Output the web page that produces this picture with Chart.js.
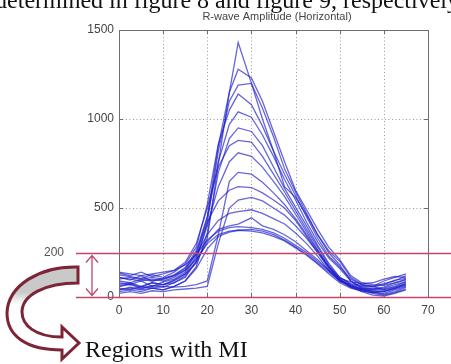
<!DOCTYPE html>
<html>
<head>
<meta charset="utf-8">
<script src="https://cdn.jsdelivr.net/npm/chart.js@4/dist/chart.umd.min.js"></script>
<style>
  html, body { margin: 0; padding: 0; background: #fff; }
  canvas { display: block; }
</style>
</head>
<body>
<canvas id="chart" width="451" height="364"></canvas>
<script>
// sample positions along the beat
const xValues = [0, 2.5, 5, 7.5, 10, 12.5, 15, 17.5, 20, 22.5, 25, 27, 30, 32.5, 35, 37.5, 40, 42.5, 45, 47.5, 50, 52.5, 55, 57.5, 60, 62.5, 65];

// one array per traced beat
const beat1 = [60, 75, 55, 80, 70, 95, 130, 190, 330, 750, 1150, 1430, 1200, 1000, 820, 620, 560, 460, 350, 260, 200, 110, 70, 60, 40, 55, 75];
const beat2 = [110, 95, 120, 90, 105, 125, 165, 260, 450, 850, 1150, 1280, 1230, 1100, 930, 760, 600, 490, 380, 280, 210, 120, 80, 70, 65, 80, 100];
const beat3 = [40, 55, 45, 65, 55, 80, 110, 200, 420, 820, 1100, 1190, 1200, 1060, 900, 720, 590, 470, 350, 250, 180, 90, 50, 30, 15, 30, 55];
const beat4 = [125, 115, 105, 125, 110, 140, 185, 280, 520, 860, 1050, 1140, 1080, 960, 820, 690, 570, 450, 330, 230, 170, 100, 70, 60, 75, 90, 120];
const beat5 = [80, 70, 90, 60, 85, 100, 140, 230, 450, 760, 970, 1040, 1010, 910, 790, 660, 545, 420, 310, 220, 160, 90, 55, 45, 50, 70, 85];
const beat6 = [30, 40, 30, 50, 40, 60, 90, 170, 360, 700, 890, 950, 930, 850, 730, 610, 505, 400, 290, 190, 110, 70, 40, 20, 10, 25, 45];
const beat7 = [135, 120, 140, 115, 130, 150, 195, 300, 500, 730, 850, 880, 870, 790, 690, 590, 485, 380, 280, 180, 110, 75, 65, 60, 90, 110, 130];
const beat8 = [70, 80, 60, 80, 70, 90, 130, 220, 400, 620, 760, 810, 790, 730, 650, 565, 465, 365, 265, 170, 100, 60, 45, 35, 30, 50, 75];
const beat9 = [50, 40, 60, 50, 60, 55, 60, 70, 90, 350, 650, 700, 690, 645, 585, 520, 440, 350, 260, 170, 100, 60, 40, 30, 35, 50, 65];
const beat10 = [110, 100, 90, 100, 90, 110, 150, 250, 420, 540, 600, 620, 615, 585, 545, 500, 430, 340, 250, 160, 95, 70, 60, 55, 70, 95, 105];
const beat11 = [20, 30, 20, 35, 30, 40, 45, 50, 60, 300, 500, 545, 560, 540, 500, 460, 400, 330, 250, 170, 100, 55, 30, 10, 5, 20, 40];
const beat12 = [90, 80, 100, 90, 100, 120, 160, 240, 350, 430, 470, 480, 490, 470, 440, 410, 360, 300, 230, 150, 90, 65, 50, 45, 55, 80, 95];
const beat13 = [60, 70, 50, 60, 70, 80, 120, 200, 310, 380, 400, 410, 445, 400, 380, 350, 310, 260, 210, 150, 90, 55, 35, 25, 20, 40, 60];
const beat14 = [140, 130, 120, 130, 140, 150, 180, 240, 320, 370, 390, 395, 390, 380, 360, 330, 290, 250, 200, 150, 105, 85, 75, 80, 100, 115, 110];
const beat15 = [40, 50, 40, 50, 40, 60, 90, 160, 270, 340, 365, 375, 380, 370, 350, 320, 280, 240, 190, 140, 90, 60, 45, 40, 45, 60, 85];
const beat16 = [100, 110, 100, 110, 100, 120, 150, 210, 300, 350, 370, 375, 370, 360, 340, 315, 275, 235, 185, 130, 80, 50, 35, 25, 30, 45, 70];

const beats = [beat1, beat2, beat3, beat4, beat5, beat6, beat7, beat8, beat9, beat10, beat11, beat12, beat13, beat14, beat15, beat16];

const xTicks = [0, 10, 20, 30, 40, 50, 60, 70];
const yTicks = [0, 500, 1000, 1500];

const chartTitle = 'R-wave Amplitude (Horizontal)';
const thresholdLabel = '200';
const thresholdValue = 250;   // where the red band line sits on the axis
const regionText = 'Regions with MI';
const topText = 'determined in figure 8 and figure 9, respectively.';

const datasets = beats.map((b) => ({
  data: b.map((v, i) => ({ x: xValues[i], y: v })),
  borderColor: 'rgba(30, 30, 200, 0.68)',
  borderWidth: 1.3,
  pointRadius: 0,
  tension: 0,
  fill: false,
}));

const red = '#c2476a';
const wine = '#7d2436';

const decor = {
  id: 'decor',
  beforeDatasetsDraw(chart) {
    const { ctx, chartArea: a, scales: { x, y } } = chart;
    ctx.save();
    ctx.strokeStyle = '#9a9a9a';
    ctx.lineWidth = 1;
    ctx.setLineDash([1, 2.5]);
    xTicks.slice(1, -1).forEach((t) => {
      const px = Math.round(x.getPixelForValue(t)) + 0.5;
      ctx.beginPath(); ctx.moveTo(px, a.top); ctx.lineTo(px, a.bottom); ctx.stroke();
    });
    yTicks.slice(1, -1).forEach((t) => {
      const py = Math.round(y.getPixelForValue(t)) + 0.5;
      ctx.beginPath(); ctx.moveTo(a.left, py); ctx.lineTo(a.right, py); ctx.stroke();
    });
    ctx.restore();
  },
  afterDraw(chart) {
    const { ctx, chartArea: a, scales: { x, y } } = chart;
    ctx.save();

    // box and inward ticks
    ctx.strokeStyle = '#6e6e6e';
    ctx.lineWidth = 1;
    ctx.strokeRect(Math.round(a.left) + 0.5, Math.round(a.top) + 0.5, Math.round(a.right - a.left), Math.round(a.bottom - a.top));
    ctx.beginPath();
    xTicks.forEach((t) => {
      const px = Math.round(x.getPixelForValue(t)) + 0.5;
      ctx.moveTo(px, a.top); ctx.lineTo(px, a.top + 4);
      ctx.moveTo(px, a.bottom); ctx.lineTo(px, a.bottom - 4);
    });
    yTicks.forEach((t) => {
      const py = Math.round(y.getPixelForValue(t)) + 0.5;
      ctx.moveTo(a.left, py); ctx.lineTo(a.left + 4, py);
      ctx.moveTo(a.right, py); ctx.lineTo(a.right - 4, py);
    });
    ctx.stroke();

    // title
    ctx.fillStyle = '#444';
    ctx.font = '11px "Liberation Sans", Arial, sans-serif';
    ctx.textAlign = 'center';
    ctx.textBaseline = 'middle';
    ctx.fillText(chartTitle, 277, 17);

    // cropped caption line at the very top
    ctx.fillStyle = '#111';
    ctx.font = '24px "Liberation Serif", "Times New Roman", serif';
    ctx.textAlign = 'left';
    ctx.textBaseline = 'alphabetic';
    const head = 'determined in figure 8 and figure 9,';
    ctx.fillText(topText, 337 - ctx.measureText(head).width, 8);

    // red band lines
    const yTop = Math.round(y.getPixelForValue(thresholdValue)) + 0.5;
    const yBot = Math.round(y.getPixelForValue(0)) + 0.5;
    ctx.strokeStyle = red;
    ctx.lineWidth = 1.3;
    ctx.beginPath();
    ctx.moveTo(76, yTop); ctx.lineTo(chart.width, yTop);
    ctx.moveTo(76, yBot); ctx.lineTo(chart.width, yBot);
    ctx.stroke();

    // double headed arrow
    ctx.beginPath();
    ctx.moveTo(92, yTop + 2); ctx.lineTo(92, yBot - 2);
    ctx.moveTo(86, yTop + 9); ctx.lineTo(92, yTop + 2); ctx.lineTo(98, yTop + 9);
    ctx.moveTo(86, yBot - 9); ctx.lineTo(92, yBot - 2); ctx.lineTo(98, yBot - 9);
    ctx.stroke();

    ctx.fillStyle = '#555';
    ctx.font = '12px "Liberation Sans", Arial, sans-serif';
    ctx.textAlign = 'center';
    ctx.textBaseline = 'middle';
    ctx.fillText(thresholdLabel, 54, yTop - 1);

    // curved block arrow
    ctx.beginPath();
    ctx.moveTo(78, 267);
    ctx.bezierCurveTo(40, 266, 8, 285, 7, 313);
    ctx.bezierCurveTo(7, 335, 25, 350, 62, 350);
    ctx.lineTo(62, 359);
    ctx.lineTo(79, 343);
    ctx.lineTo(62, 327);
    ctx.lineTo(62, 337);
    ctx.bezierCurveTo(35, 337, 22, 325, 22, 312);
    ctx.bezierCurveTo(22, 295, 45, 283, 78, 283);
    ctx.closePath();
    const g = ctx.createLinearGradient(0, 292, 0, 304);
    g.addColorStop(0, '#c9c9c9');
    g.addColorStop(1, '#ffffff');
    ctx.fillStyle = g;
    ctx.fill();
    ctx.strokeStyle = wine;
    ctx.lineWidth = 3;
    ctx.lineJoin = 'miter';
    ctx.stroke();

    // caption under the chart
    ctx.fillStyle = '#111';
    ctx.font = '24px "Liberation Serif", "Times New Roman", serif';
    ctx.textAlign = 'left';
    ctx.textBaseline = 'alphabetic';
    ctx.fillText(regionText, 85, 357);

    ctx.restore();
  },
};

new Chart(document.getElementById('chart').getContext('2d'), {
  type: 'line',
  data: { datasets },
  options: {
    responsive: false,
    animation: false,
    devicePixelRatio: 1,
    layout: { padding: { left: 0, right: 23, top: 30, bottom: 0 } },
    plugins: { legend: { display: false }, tooltip: { enabled: false }, title: { display: false } },
    scales: {
      x: {
        type: 'linear',
        min: 0,
        max: 70,
        afterFit: (s) => { s.height = 67; },
        afterBuildTicks: (s) => { s.ticks = xTicks.map((v) => ({ value: v })); },
        grid: { display: false, drawTicks: false },
        border: { display: false },
        ticks: { color: '#444', padding: 6, callback: (v) => String(v), font: { size: 12, family: '"Liberation Sans", Arial, sans-serif' } },
      },
      y: {
        min: 0,
        max: 1500,
        afterFit: (s) => { s.width = 119; },
        afterBuildTicks: (s) => { s.ticks = yTicks.map((v) => ({ value: v })); },
        grid: { display: false, drawTicks: false },
        border: { display: false },
        ticks: { color: '#444', padding: 5, callback: (v) => String(v), font: { size: 12, family: '"Liberation Sans", Arial, sans-serif' } },
      },
    },
  },
  plugins: [decor],
});
</script>
</body>
</html>
